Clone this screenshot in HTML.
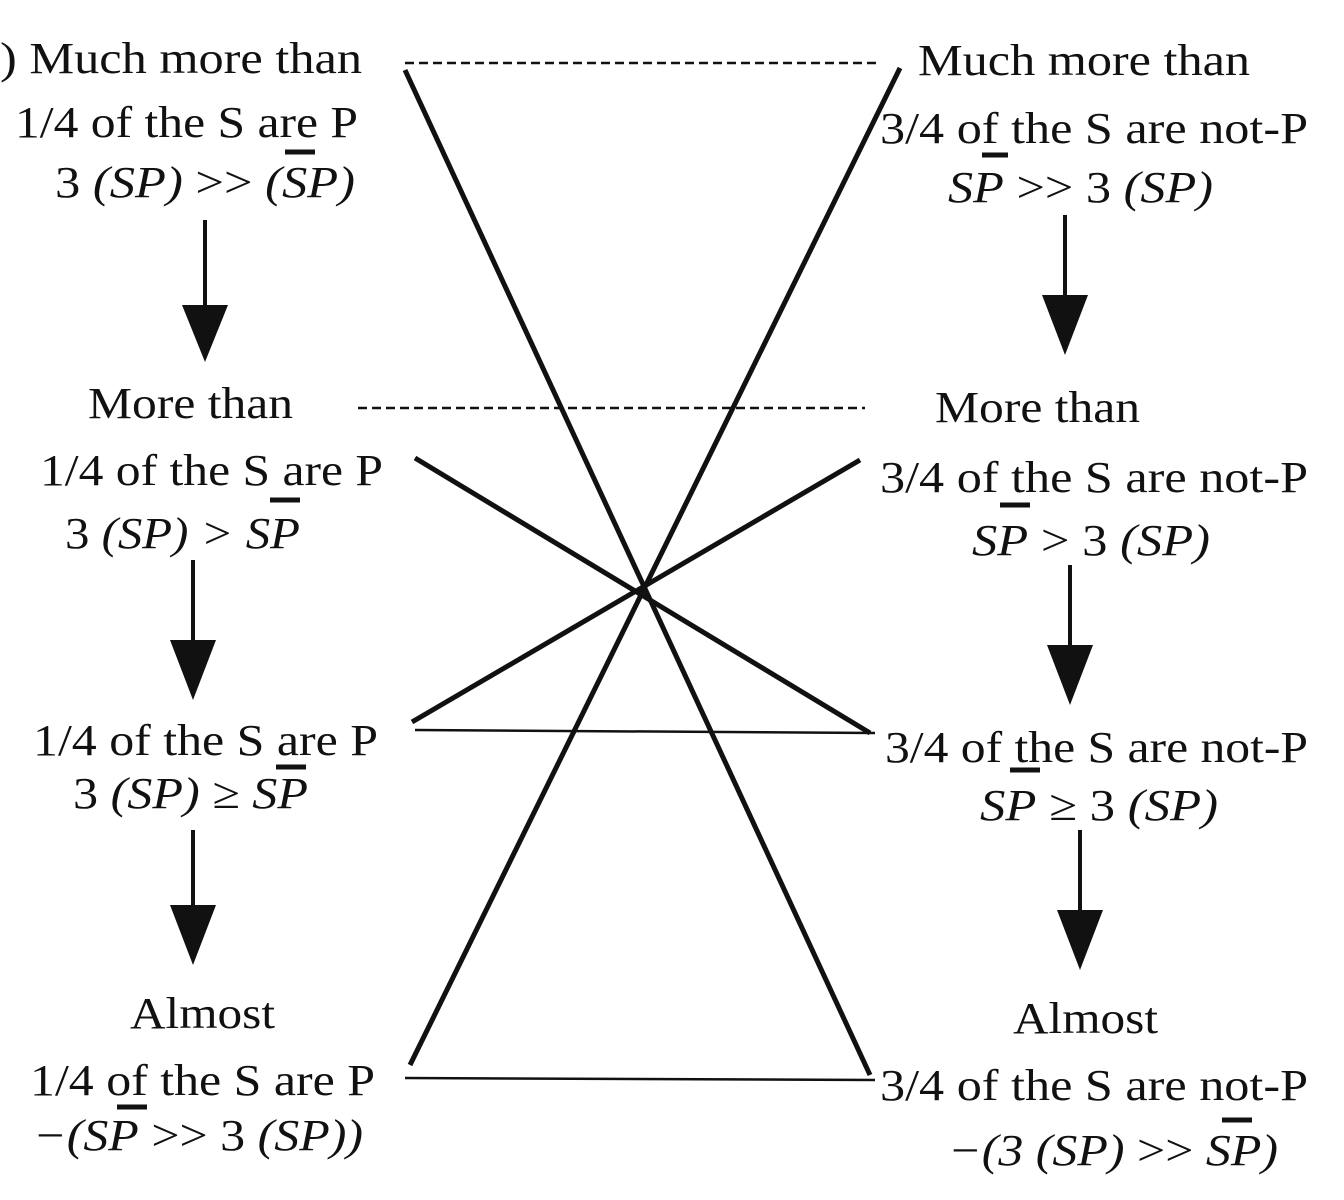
<!DOCTYPE html>
<html><head><meta charset="utf-8"><style>body{margin:0;background:#fff}svg{display:block}</style></head>
<body>
<svg width="1344" height="1200" viewBox="0 0 1344 1200" xmlns="http://www.w3.org/2000/svg" font-family="Liberation Serif, serif" font-size="44" fill="#111">
<g stroke="#111" fill="none">
<line x1="405" y1="63" x2="880" y2="63" stroke-width="2.5" stroke-dasharray="9,5"/>
<line x1="358" y1="408" x2="865" y2="408" stroke-width="2.5" stroke-dasharray="9,5"/>
<line x1="405" y1="70" x2="870" y2="1075" stroke-width="5"/>
<line x1="900" y1="68" x2="410" y2="1065" stroke-width="5"/>
<line x1="415" y1="458" x2="870" y2="733" stroke-width="5"/>
<line x1="860" y1="460" x2="412" y2="722" stroke-width="5"/>
<line x1="415" y1="730" x2="875" y2="733" stroke-width="2.5"/>
<line x1="405" y1="1078" x2="875" y2="1080" stroke-width="2.5"/>
<line x1="205" y1="220" x2="205" y2="310" stroke-width="4"/>
<line x1="193" y1="560" x2="193" y2="645" stroke-width="4"/>
<line x1="193" y1="830" x2="193" y2="910" stroke-width="4"/>
<line x1="1065" y1="215" x2="1065" y2="300" stroke-width="4"/>
<line x1="1070" y1="565" x2="1070" y2="650" stroke-width="4"/>
<line x1="1080" y1="830" x2="1080" y2="915" stroke-width="4"/>
</g>
<g fill="#111">
<polygon points="182,305 228,305 205,362"/>
<polygon points="170,640 216,640 193,700"/>
<polygon points="170,905 216,905 193,965"/>
<polygon points="1042,295 1088,295 1065,355"/>
<polygon points="1047,645 1093,645 1070,705"/>
<polygon points="1057,910 1103,910 1080,970"/>
</g>
<!-- left column -->
<text x="0" y="73" textLength="362" lengthAdjust="spacingAndGlyphs">) Much more than</text>
<text x="15" y="137" textLength="343" lengthAdjust="spacingAndGlyphs">1/4 of the S are P</text>
<text x="55" y="197" textLength="300" lengthAdjust="spacingAndGlyphs">3 <tspan font-style="italic">(SP)</tspan> &gt;&gt; <tspan font-style="italic">(SP)</tspan></text>
<line x1="285" y1="152" x2="315" y2="152" stroke="#111" stroke-width="5"/>
<text x="88" y="418" textLength="205" lengthAdjust="spacingAndGlyphs">More than</text>
<text x="40" y="485" textLength="343" lengthAdjust="spacingAndGlyphs">1/4 of the S are P</text>
<text x="65" y="548" textLength="235" lengthAdjust="spacingAndGlyphs">3 <tspan font-style="italic">(SP) &gt; SP</tspan></text>
<line x1="270" y1="500" x2="300" y2="500" stroke="#111" stroke-width="5"/>
<text x="33" y="755" textLength="345" lengthAdjust="spacingAndGlyphs">1/4 of the S are P</text>
<text x="73" y="808" textLength="235" lengthAdjust="spacingAndGlyphs">3 <tspan font-style="italic">(SP) ≥ SP</tspan></text>
<line x1="276" y1="767" x2="306" y2="767" stroke="#111" stroke-width="5"/>
<text x="130" y="1028" textLength="145" lengthAdjust="spacingAndGlyphs">Almost</text>
<text x="30" y="1095" textLength="345" lengthAdjust="spacingAndGlyphs">1/4 of the S are P</text>
<text x="33" y="1150" textLength="330" lengthAdjust="spacingAndGlyphs"><tspan font-style="italic">−(SP</tspan> &gt;&gt; 3 <tspan font-style="italic">(SP))</tspan></text>
<line x1="117" y1="1107" x2="147" y2="1107" stroke="#111" stroke-width="5"/>
<!-- right column -->
<text x="918" y="75" textLength="332" lengthAdjust="spacingAndGlyphs">Much more than</text>
<text x="880" y="143" textLength="428" lengthAdjust="spacingAndGlyphs">3/4 of the S are not-P</text>
<text x="948" y="202" textLength="265" lengthAdjust="spacingAndGlyphs"><tspan font-style="italic">SP</tspan> &gt;&gt; 3 <tspan font-style="italic">(SP)</tspan></text>
<line x1="982" y1="155" x2="1008" y2="155" stroke="#111" stroke-width="5"/>
<text x="935" y="422" textLength="205" lengthAdjust="spacingAndGlyphs">More than</text>
<text x="880" y="492" textLength="428" lengthAdjust="spacingAndGlyphs">3/4 of the S are not-P</text>
<text x="972" y="555" textLength="238" lengthAdjust="spacingAndGlyphs"><tspan font-style="italic">SP</tspan> &gt; 3 <tspan font-style="italic">(SP)</tspan></text>
<line x1="1000" y1="505" x2="1030" y2="505" stroke="#111" stroke-width="5"/>
<text x="885" y="762" textLength="423" lengthAdjust="spacingAndGlyphs">3/4 of the S are not-P</text>
<text x="980" y="820" textLength="238" lengthAdjust="spacingAndGlyphs"><tspan font-style="italic">SP</tspan> ≥ 3 <tspan font-style="italic">(SP)</tspan></text>
<line x1="1010" y1="770" x2="1040" y2="770" stroke="#111" stroke-width="5"/>
<text x="1013" y="1033" textLength="145" lengthAdjust="spacingAndGlyphs">Almost</text>
<text x="880" y="1100" textLength="428" lengthAdjust="spacingAndGlyphs">3/4 of the S are not-P</text>
<text x="948" y="1165" textLength="330" lengthAdjust="spacingAndGlyphs"><tspan font-style="italic">−(3 (SP)</tspan> &gt;&gt; <tspan font-style="italic">SP)</tspan></text>
<line x1="1222" y1="1120" x2="1252" y2="1120" stroke="#111" stroke-width="5"/>
</svg>
</body></html>
